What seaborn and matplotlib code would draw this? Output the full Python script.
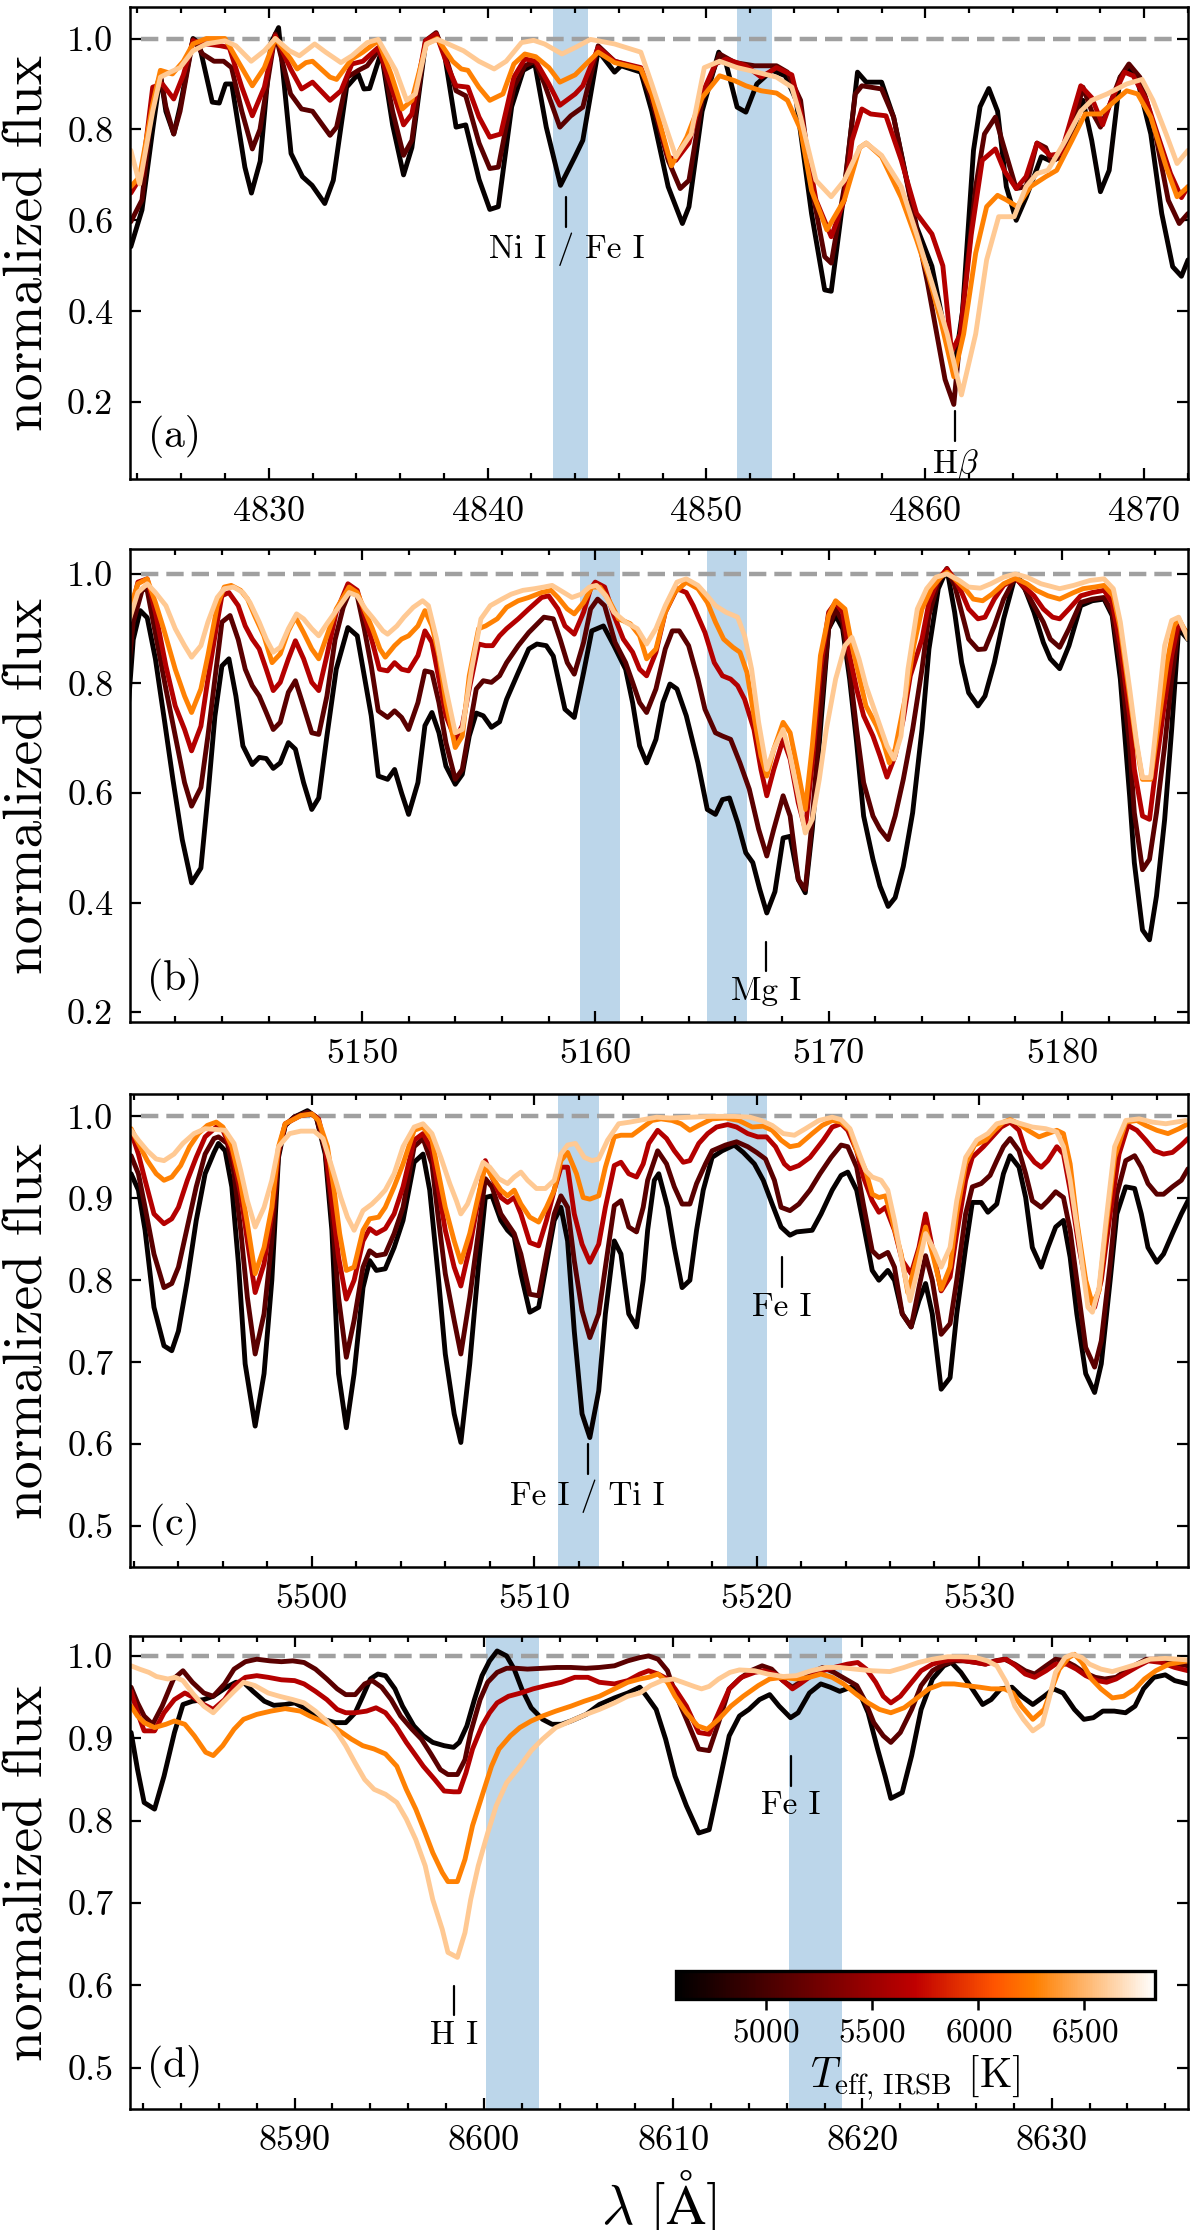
import matplotlib
matplotlib.use("Agg")
import matplotlib.pyplot as plt
import seaborn as sns
import pandas as pd
from matplotlib import colors, cm
from matplotlib.ticker import MultipleLocator, FormatStrFormatter

# effective temperatures of the five stars and the colour-bar range
TEFF = [4620, 5110, 5640, 6270, 6590]
TEFF_RANGE = (4576, 6833)
CBAR_TICKS = [5000, 5500, 6000, 6500]

# ---------------- panel (a): 4824-4872 A ----------------
A_4620 = [(4823.70,0.542),(4824.21,0.623),(4824.70,0.80),(4825.05,0.92),(4825.30,0.84),(4825.66,0.79),(4825.95,0.85),
          (4826.54,1.00),(4826.81,0.99),(4827.42,0.86),(4827.74,0.858),(4828.03,0.90),(4828.31,0.90),(4828.91,0.717),
          (4829.21,0.66),(4829.61,0.73),(4830.10,0.99),(4830.45,1.024),(4831.02,0.747),(4831.54,0.696),(4831.98,0.677),
          (4832.56,0.637),(4832.95,0.688),(4833.56,0.893),(4834.09,0.922),(4834.35,0.889),(4834.61,0.89),(4835.14,0.97),
          (4835.66,0.81),(4836.16,0.70),(4836.54,0.76),(4837.16,0.988),(4837.65,1.01),(4838.03,0.966),(4838.56,0.805),
          (4839.00,0.81),(4839.61,0.69),(4840.10,0.624),(4840.49,0.63),(4841.10,0.85),(4841.63,0.93),(4842.16,0.944),
          (4842.68,0.805),(4843.33,0.677),(4843.99,0.74),(4844.35,0.776),(4845.05,0.973),(4845.8,0.926),(4846.1,0.94),
          (4847.0,0.926),(4847.5,0.84),(4848.25,0.674),(4848.9,0.593),(4849.2,0.63),(4849.8,0.84),(4850.56,0.97),
          (4850.9,0.944),(4851.4,0.849),(4851.8,0.838),(4852.3,0.90),(4853.0,0.93),(4853.6,0.918),(4854.1,0.864),
          (4854.8,0.615),(4855.4,0.447),(4855.7,0.444),(4856.3,0.666),(4856.9,0.926),(4857.3,0.904),(4858.0,0.904),
          (4858.55,0.827),(4859.6,0.586),(4860.3,0.499),(4860.9,0.353),(4861.3,0.267),(4861.7,0.40),(4862.2,0.754),
          (4862.5,0.85),(4862.9,0.89),(4863.3,0.84),(4863.7,0.674),(4864.15,0.60),(4864.6,0.65),(4865.3,0.74),
          (4865.75,0.73),(4866.2,0.74),(4866.7,0.79),(4867.2,0.864),(4867.6,0.776),(4868.0,0.663),(4868.4,0.71),
          (4868.9,0.915),(4869.3,0.936),(4869.7,0.907),(4870.3,0.79),(4870.8,0.615),(4871.3,0.498),(4871.7,0.477),
          (4872.0,0.513)]
A_5110 = [(4823.70,0.597),(4824.21,0.645),(4824.70,0.87),(4825.05,0.92),(4825.30,0.85),(4825.66,0.79),(4825.95,0.84),
          (4826.54,0.998),(4826.98,0.966),(4827.5,0.95),(4827.94,0.95),(4828.3,0.936),(4828.77,0.84),(4829.25,0.757),
          (4829.6,0.80),(4830.3,1.01),(4831.0,0.878),(4831.5,0.845),(4832.0,0.84),(4832.8,0.787),(4833.1,0.805),
          (4833.6,0.915),(4834.1,0.93),(4834.5,0.94),(4835.1,0.98),(4835.66,0.84),(4836.16,0.743),(4836.54,0.776),
          (4837.16,0.995),(4837.65,1.013),(4838.1,0.958),(4838.56,0.885),(4839.0,0.874),(4839.61,0.77),(4840.1,0.714),
          (4840.49,0.717),(4841.2,0.893),(4841.7,0.94),(4842.16,0.95),(4842.6,0.90),(4843.3,0.805),(4843.8,0.83),
          (4844.35,0.849),(4845.05,0.984),(4845.8,0.95),(4847.0,0.933),(4847.5,0.864),(4848.25,0.732),(4848.8,0.67),
          (4849.2,0.688),(4849.8,0.864),(4850.6,0.966),(4851.3,0.947),(4852.2,0.94),(4853.2,0.94),(4853.7,0.926),
          (4854.3,0.864),(4854.8,0.674),(4855.4,0.52),(4855.7,0.506),(4856.3,0.674),(4856.8,0.878),(4857.1,0.896),
          (4858.0,0.889),(4858.55,0.827),(4859.2,0.674),(4860.1,0.462),(4860.9,0.25),(4861.3,0.195),(4861.75,0.425),
          (4862.3,0.674),(4862.7,0.79),(4863.2,0.827),(4863.5,0.776),(4864.15,0.67),(4864.6,0.674),(4865.1,0.77),
          (4865.5,0.76),(4865.75,0.73),(4866.2,0.74),(4866.7,0.797),(4867.2,0.893),(4867.6,0.84),(4868.0,0.805),
          (4868.5,0.864),(4868.9,0.915),(4869.3,0.944),(4869.8,0.915),(4870.45,0.805),(4871.1,0.644),(4871.6,0.593),
          (4872.0,0.615)]
A_5640 = [(4823.70,0.66),(4824.21,0.70),(4824.70,0.893),(4825.14,0.90),(4825.66,0.867),(4826.1,0.92),(4826.54,0.995),
          (4827.15,0.988),(4827.8,0.984),(4828.2,0.98),(4828.77,0.893),(4829.25,0.83),(4829.8,0.893),(4830.3,1.006),
          (4831.0,0.933),(4831.5,0.889),(4832.0,0.904),(4832.8,0.864),(4833.3,0.885),(4833.8,0.944),(4834.3,0.95),
          (4835.0,0.98),(4835.66,0.885),(4836.16,0.81),(4836.54,0.834),(4837.16,0.995),(4837.65,1.01),(4838.2,0.936),
          (4838.56,0.896),(4839.1,0.893),(4839.61,0.827),(4840.1,0.783),(4840.6,0.79),(4841.2,0.915),(4841.7,0.955),
          (4842.2,0.95),(4842.8,0.90),(4843.3,0.853),(4844.0,0.878),(4844.35,0.896),(4845.05,0.98),(4845.8,0.95),
          (4847.0,0.936),(4847.5,0.878),(4848.25,0.74),(4848.6,0.732),(4849.2,0.77),(4849.8,0.878),(4850.4,0.944),
          (4850.9,0.955),(4851.8,0.94),(4852.5,0.915),(4853.2,0.936),(4853.9,0.92),(4854.3,0.84),(4855.0,0.645),
          (4855.7,0.564),(4856.3,0.645),(4856.65,0.776),(4857.1,0.845),(4857.5,0.834),(4858.2,0.83),(4858.9,0.732),
          (4859.6,0.615),(4860.3,0.57),(4860.8,0.50),(4861.2,0.31),(4861.6,0.35),(4862.1,0.57),(4862.6,0.732),
          (4863.2,0.757),(4863.6,0.71),(4864.15,0.67),(4864.6,0.696),(4865.1,0.77),(4865.7,0.743),(4866.2,0.747),
          (4867.1,0.896),(4867.6,0.87),(4868.1,0.81),(4868.5,0.864),(4869.1,0.926),(4869.5,0.918),(4870.1,0.864),
          (4870.6,0.79),(4871.2,0.703),(4871.7,0.65),(4872.0,0.674)]
A_6270 = [(4823.70,0.674),(4824.1,0.696),(4824.70,0.856),(4825.05,0.93),(4825.6,0.922),(4826.1,0.95),(4826.54,0.988),
          (4827.15,1.0),(4828.0,1.0),(4828.5,0.958),(4829.25,0.896),(4829.8,0.936),(4830.3,1.0),(4831.0,0.955),
          (4831.3,0.933),(4831.7,0.947),(4832.0,0.95),(4832.8,0.915),(4833.1,0.91),(4833.8,0.955),(4834.3,0.97),
          (4835.0,0.995),(4835.6,0.92),(4836.1,0.845),(4836.54,0.864),(4837.2,0.988),(4837.7,1.0),(4838.4,0.95),
          (4838.8,0.933),(4839.1,0.93),(4839.6,0.893),(4840.1,0.864),(4840.7,0.878),(4841.2,0.944),(4841.7,0.966),
          (4842.2,0.96),(4842.8,0.936),(4843.3,0.904),(4844.0,0.92),(4844.5,0.944),(4845.05,0.97),(4845.8,0.947),
          (4847.0,0.933),(4847.5,0.878),(4848.4,0.72),(4849.1,0.783),(4849.8,0.87),(4850.6,0.918),(4851.3,0.907),
          (4851.8,0.896),(4852.5,0.885),(4853.2,0.88),(4853.7,0.864),(4854.3,0.80),(4854.8,0.666),(4855.5,0.579),
          (4856.3,0.645),(4857.0,0.76),(4857.3,0.77),(4858.0,0.74),(4858.9,0.65),(4859.6,0.557),(4860.15,0.477),
          (4860.7,0.38),(4861.3,0.256),(4861.75,0.35),(4862.3,0.528),(4862.8,0.63),(4863.3,0.655),(4863.7,0.645),
          (4864.2,0.63),(4864.8,0.674),(4865.5,0.696),(4866.0,0.71),(4866.7,0.776),(4867.3,0.834),(4868.0,0.834),
          (4868.5,0.856),(4869.2,0.885),(4869.7,0.878),(4870.3,0.827),(4871.0,0.718),(4871.5,0.652),(4872.0,0.674)]
A_6590 = [(4823.70,0.754),(4824.1,0.68),(4824.70,0.84),(4825.05,0.915),(4825.5,0.926),(4825.95,0.936),(4826.54,0.973),
          (4827.15,0.988),(4828.0,0.995),(4828.5,0.984),(4829.2,0.95),(4829.8,0.973),(4830.3,1.0),(4830.95,0.973),
          (4831.4,0.962),(4832.1,0.988),(4832.6,0.97),(4833.3,0.947),(4833.8,0.962),(4834.5,0.991),(4835.0,0.998),
          (4835.8,0.93),(4836.3,0.864),(4836.7,0.878),(4837.2,0.988),(4837.7,0.998),(4838.2,0.988),(4838.9,0.973),
          (4839.6,0.95),(4840.3,0.933),(4840.85,0.95),(4841.55,0.991),(4842.1,0.996),(4842.6,0.988),(4843.4,0.966),
          (4844.0,0.98),(4844.7,0.998),(4845.05,0.995),(4845.8,0.988),(4847.0,0.97),(4847.5,0.90),(4848.25,0.79),
          (4848.6,0.74),(4849.3,0.79),(4849.9,0.936),(4850.6,0.95),(4851.4,0.936),(4852.3,0.926),(4853.2,0.915),
          (4853.9,0.893),(4854.3,0.827),(4855.0,0.688),(4855.7,0.652),(4856.3,0.688),(4857.0,0.76),(4857.3,0.77),
          (4858.0,0.743),(4858.9,0.674),(4859.6,0.57),(4860.3,0.462),(4861.0,0.35),(4861.65,0.216),(4862.3,0.35),
          (4862.8,0.513),(4863.35,0.608),(4864.06,0.608),(4864.6,0.674),(4865.1,0.703),(4865.6,0.71),(4866.4,0.776),
          (4867.1,0.84),(4867.6,0.864),(4868.3,0.878),(4869.2,0.90),(4869.9,0.91),(4870.4,0.864),(4871.0,0.79),
          (4871.5,0.725),(4872.0,0.754)]

# ---------------- panel (b): 5140-5185 A ----------------
B_4620 = [(5140.0,0.765),(5140.2,0.88),(5140.5,0.933),(5140.8,0.92),(5141.15,0.845),(5141.55,0.729),(5141.9,0.625),
          (5142.3,0.515),(5142.7,0.436),(5143.1,0.463),(5143.4,0.595),(5143.7,0.74),(5144.0,0.832),(5144.3,0.845),
          (5144.6,0.777),(5144.9,0.686),(5145.3,0.652),(5145.6,0.665),(5145.9,0.663),(5146.2,0.645),(5146.5,0.655),
          (5146.85,0.692),(5147.15,0.68),(5147.5,0.619),(5147.85,0.57),(5148.15,0.591),(5148.5,0.704),(5148.9,0.826),
          (5149.4,0.902),(5149.8,0.887),(5150.15,0.802),(5150.4,0.741),(5150.7,0.631),(5151.1,0.625),(5151.4,0.643),
          (5151.7,0.60),(5152.0,0.561),(5152.4,0.619),(5152.7,0.723),(5153.0,0.747),(5153.3,0.71),(5153.6,0.649),
          (5154.0,0.616),(5154.3,0.634),(5154.6,0.704),(5154.9,0.746),(5155.2,0.741),(5155.55,0.72),(5155.9,0.73),
          (5156.2,0.771),(5156.7,0.82),(5157.15,0.863),(5157.5,0.872),(5157.9,0.869),(5158.2,0.85),(5158.7,0.753),
          (5159.1,0.738),(5159.5,0.82),(5159.85,0.896),(5160.35,0.905),(5160.8,0.869),(5161.3,0.826),(5161.6,0.765),
          (5161.9,0.686),(5162.2,0.655),(5162.6,0.698),(5162.9,0.765),(5163.2,0.799),(5163.5,0.79),(5163.9,0.741),
          (5164.4,0.655),(5164.8,0.57),(5165.15,0.561),(5165.45,0.588),(5165.75,0.591),(5166.1,0.546),(5166.45,0.491),
          (5166.75,0.473),(5167.05,0.424),(5167.35,0.381),(5167.7,0.42),(5168.05,0.518),(5168.35,0.521),(5168.7,0.442),
          (5169.0,0.418),(5169.3,0.534),(5169.65,0.716),(5170.0,0.90),(5170.3,0.924),(5170.6,0.90),(5170.9,0.808),
          (5171.2,0.692),(5171.5,0.558),(5171.9,0.479),(5172.2,0.43),(5172.55,0.393),(5172.85,0.409),(5173.2,0.466),
          (5173.6,0.564),(5174.0,0.716),(5174.3,0.863),(5174.7,0.973),(5175.07,1.009),(5175.4,0.93),(5175.7,0.838),
          (5176.0,0.783),(5176.4,0.759),(5176.7,0.777),(5177.1,0.838),(5177.5,0.918),(5178.0,0.997),(5178.3,0.985),
          (5178.8,0.93),(5179.2,0.875),(5179.5,0.845),(5179.9,0.827),(5180.3,0.869),(5180.8,0.942),(5181.3,0.951),
          (5181.8,0.954),(5182.15,0.924),(5182.5,0.808),(5182.9,0.594),(5183.1,0.473),(5183.45,0.35),(5183.75,0.332),
          (5184.05,0.412),(5184.4,0.552),(5184.7,0.716),(5185.0,0.90),(5185.4,0.88)]
B_5110 = [(5140.0,0.826),(5140.2,0.912),(5140.6,0.973),(5140.8,0.97),(5141.2,0.88),(5141.6,0.79),(5142.0,0.704),
          (5142.4,0.619),(5142.7,0.576),(5143.1,0.61),(5143.4,0.704),(5143.7,0.808),(5144.0,0.912),(5144.35,0.924),
          (5144.7,0.88),(5145.0,0.826),(5145.3,0.796),(5145.6,0.777),(5145.9,0.747),(5146.2,0.716),(5146.5,0.729),
          (5146.85,0.784),(5147.15,0.805),(5147.45,0.765),(5147.85,0.71),(5148.15,0.707),(5148.5,0.777),(5148.85,0.88),
          (5149.2,0.939),(5149.5,0.97),(5149.8,0.96),(5150.1,0.90),(5150.4,0.832),(5150.7,0.75),(5151.1,0.738),
          (5151.4,0.75),(5151.7,0.738),(5152.0,0.716),(5152.4,0.765),(5152.7,0.823),(5153.0,0.82),(5153.3,0.765),
          (5153.6,0.692),(5154.0,0.625),(5154.3,0.643),(5154.6,0.716),(5154.9,0.79),(5155.2,0.805),(5155.55,0.802),
          (5155.9,0.814),(5156.2,0.838),(5156.7,0.869),(5157.15,0.893),(5157.8,0.921),(5158.2,0.918),(5158.5,0.88),
          (5158.8,0.838),(5159.1,0.817),(5159.5,0.875),(5159.8,0.936),(5160.1,0.954),(5160.4,0.942),(5160.85,0.875),
          (5161.3,0.838),(5161.6,0.802),(5161.9,0.765),(5162.2,0.747),(5162.6,0.79),(5163.0,0.863),(5163.3,0.896),
          (5163.6,0.896),(5164.0,0.869),(5164.4,0.808),(5164.7,0.753),(5165.15,0.71),(5165.45,0.704),(5165.8,0.698),
          (5166.2,0.655),(5166.6,0.607),(5167.0,0.534),(5167.35,0.485),(5167.65,0.534),(5168.05,0.595),(5168.35,0.558),
          (5168.7,0.442),(5169.0,0.424),(5169.3,0.552),(5169.65,0.747),(5170.0,0.90),(5170.3,0.936),(5170.6,0.912),
          (5170.9,0.826),(5171.2,0.716),(5171.5,0.619),(5171.9,0.558),(5172.2,0.534),(5172.55,0.515),(5172.85,0.558),
          (5173.2,0.625),(5173.6,0.716),(5174.0,0.826),(5174.3,0.924),(5174.7,0.985),(5175.07,1.01),(5175.4,0.979),
          (5175.7,0.93),(5176.0,0.881),(5176.4,0.862),(5176.7,0.863),(5177.1,0.905),(5177.5,0.954),(5178.0,0.994),
          (5178.4,0.973),(5178.8,0.942),(5179.2,0.912),(5179.5,0.881),(5179.9,0.866),(5180.3,0.90),(5180.8,0.948),
          (5181.3,0.954),(5181.8,0.957),(5182.15,0.93),(5182.5,0.838),(5182.9,0.686),(5183.1,0.564),(5183.45,0.46),
          (5183.75,0.479),(5184.05,0.564),(5184.4,0.686),(5184.7,0.808),(5185.0,0.905),(5185.4,0.893)]
B_5640 = [(5140.0,0.912),(5140.4,0.985),(5140.8,0.991),(5141.15,0.93),(5141.6,0.832),(5142.0,0.759),(5142.4,0.716),
          (5142.7,0.677),(5143.1,0.722),(5143.4,0.808),(5143.8,0.912),(5144.0,0.96),(5144.3,0.966),(5144.7,0.942),
          (5145.0,0.905),(5145.3,0.881),(5145.6,0.863),(5145.9,0.826),(5146.2,0.787),(5146.5,0.802),(5146.85,0.845),
          (5147.15,0.878),(5147.5,0.845),(5147.85,0.802),(5148.15,0.787),(5148.5,0.851),(5148.9,0.93),(5149.4,0.982),
          (5149.8,0.97),(5150.15,0.918),(5150.45,0.875),(5150.75,0.826),(5151.1,0.823),(5151.4,0.838),(5151.7,0.826),
          (5152.0,0.823),(5152.4,0.851),(5152.7,0.896),(5153.0,0.875),(5153.3,0.808),(5153.6,0.741),(5154.0,0.698),
          (5154.3,0.723),(5154.6,0.79),(5155.0,0.872),(5155.3,0.869),(5155.6,0.869),(5155.9,0.887),(5156.2,0.90),
          (5156.7,0.918),(5157.15,0.936),(5157.7,0.957),(5158.0,0.96),(5158.4,0.936),(5158.7,0.905),(5159.1,0.89),
          (5159.5,0.93),(5159.8,0.973),(5160.0,0.985),(5160.4,0.976),(5160.8,0.924),(5161.2,0.881),(5161.6,0.857),
          (5161.9,0.826),(5162.2,0.814),(5162.6,0.857),(5163.0,0.93),(5163.5,0.973),(5163.9,0.966),(5164.2,0.942),
          (5164.7,0.893),(5165.1,0.838),(5165.45,0.814),(5165.8,0.808),(5166.1,0.796),(5166.4,0.771),(5166.8,0.716),
          (5167.1,0.643),(5167.35,0.595),(5167.65,0.643),(5168.05,0.698),(5168.35,0.662),(5168.7,0.582),(5169.0,0.534),
          (5169.3,0.655),(5169.65,0.826),(5170.0,0.93),(5170.3,0.948),(5170.6,0.93),(5170.9,0.851),(5171.2,0.79),
          (5171.5,0.741),(5171.9,0.704),(5172.2,0.668),(5172.5,0.629),(5172.85,0.668),(5173.2,0.735),(5173.5,0.814),
          (5174.0,0.881),(5174.3,0.948),(5174.7,0.991),(5175.07,1.009),(5175.4,0.991),(5175.7,0.966),(5176.0,0.936),
          (5176.4,0.918),(5176.7,0.921),(5177.1,0.954),(5177.5,0.979),(5178.0,0.992),(5178.4,0.976),(5178.8,0.96),
          (5179.2,0.936),(5179.6,0.921),(5179.9,0.918),(5180.3,0.936),(5180.8,0.96),(5181.3,0.966),(5181.8,0.97),
          (5182.15,0.948),(5182.5,0.869),(5182.9,0.741),(5183.1,0.643),(5183.45,0.558),(5183.75,0.552),(5184.05,0.655),
          (5184.4,0.765),(5184.7,0.851),(5185.0,0.912),(5185.4,0.887)]
B_6270 = [(5140.0,0.93),(5140.4,0.982),(5140.8,0.991),(5141.15,0.948),(5141.5,0.90),(5142.0,0.826),(5142.4,0.777),
          (5142.7,0.747),(5143.1,0.79),(5143.4,0.851),(5143.8,0.942),(5144.1,0.976),(5144.4,0.979),(5144.8,0.97),
          (5145.1,0.954),(5145.4,0.924),(5145.8,0.887),(5146.15,0.838),(5146.5,0.854),(5146.85,0.896),(5147.15,0.921),
          (5147.5,0.893),(5147.85,0.863),(5148.15,0.845),(5148.5,0.887),(5148.9,0.936),(5149.45,0.976),(5149.8,0.966),
          (5150.15,0.93),(5150.45,0.90),(5150.77,0.863),(5151.0,0.848),(5151.4,0.869),(5151.7,0.881),(5152.0,0.887),
          (5152.4,0.905),(5152.7,0.933),(5153.0,0.905),(5153.3,0.851),(5153.6,0.765),(5154.0,0.683),(5154.3,0.704),
          (5154.6,0.814),(5155.0,0.90),(5155.3,0.905),(5155.8,0.918),(5156.2,0.939),(5156.7,0.951),(5157.15,0.957),
          (5157.7,0.966),(5158.1,0.97),(5158.4,0.957),(5158.8,0.936),(5159.1,0.927),(5159.5,0.948),(5159.85,0.976),
          (5160.2,0.976),(5160.6,0.951),(5161.0,0.918),(5161.5,0.909),(5161.9,0.887),(5162.2,0.845),(5162.6,0.863),
          (5163.0,0.93),(5163.4,0.966),(5163.9,0.985),(5164.4,0.973),(5164.8,0.948),(5165.15,0.912),(5165.5,0.881),
          (5165.9,0.866),(5166.2,0.857),(5166.5,0.82),(5166.8,0.741),(5167.1,0.668),(5167.35,0.631),(5167.65,0.68),
          (5168.05,0.729),(5168.35,0.71),(5168.7,0.637),(5169.0,0.57),(5169.3,0.686),(5169.65,0.851),(5170.0,0.924),
          (5170.3,0.951),(5170.7,0.936),(5171.0,0.869),(5171.3,0.814),(5171.6,0.759),(5172.05,0.723),(5172.35,0.692),
          (5172.6,0.655),(5172.85,0.68),(5173.3,0.777),(5173.65,0.869),(5174.0,0.936),(5174.4,0.973),(5174.8,0.994),
          (5175.07,1.003),(5175.4,0.991),(5175.9,0.97),(5176.2,0.954),(5176.6,0.951),(5177.0,0.963),(5177.5,0.982),
          (5178.0,0.992),(5178.5,0.982),(5178.9,0.97),(5179.4,0.96),(5179.9,0.954),(5180.5,0.966),(5180.9,0.973),
          (5181.4,0.976),(5181.8,0.979),(5182.2,0.96),(5182.5,0.90),(5182.9,0.777),(5183.2,0.686),(5183.45,0.625),
          (5183.8,0.625),(5184.1,0.716),(5184.5,0.838),(5184.8,0.905),(5185.0,0.918),(5185.4,0.887)]
B_6590 = [(5140.0,0.912),(5140.4,0.966),(5140.8,0.982),(5141.15,0.966),(5141.6,0.942),(5142.0,0.90),(5142.4,0.869),
          (5142.7,0.848),(5143.1,0.869),(5143.4,0.912),(5143.8,0.957),(5144.1,0.973),(5144.5,0.976),(5144.9,0.966),
          (5145.2,0.948),(5145.6,0.912),(5145.9,0.881),(5146.2,0.857),(5146.5,0.866),(5146.85,0.90),(5147.2,0.927),
          (5147.5,0.918),(5147.85,0.90),(5148.15,0.887),(5148.5,0.909),(5148.9,0.933),(5149.45,0.966),(5149.8,0.96),
          (5150.15,0.936),(5150.5,0.918),(5150.9,0.896),(5151.1,0.89),(5151.5,0.905),(5151.8,0.921),(5152.2,0.939),
          (5152.6,0.951),(5152.85,0.942),(5153.2,0.881),(5153.6,0.79),(5154.0,0.71),(5154.3,0.716),(5154.7,0.826),
          (5155.1,0.918),(5155.5,0.942),(5156.0,0.954),(5156.4,0.963),(5156.9,0.97),(5157.4,0.973),(5157.8,0.976),
          (5158.15,0.979),(5158.5,0.97),(5159.0,0.957),(5159.4,0.963),(5159.75,0.976),(5160.05,0.979),(5160.45,0.96),
          (5160.8,0.93),(5161.3,0.912),(5161.8,0.90),(5162.2,0.872),(5162.6,0.90),(5163.0,0.942),(5163.5,0.985),
          (5163.9,0.991),(5164.4,0.979),(5164.8,0.96),(5165.15,0.942),(5165.6,0.93),(5166.1,0.921),(5166.4,0.887),
          (5166.7,0.826),(5167.0,0.729),(5167.35,0.643),(5167.65,0.68),(5168.05,0.716),(5168.35,0.668),(5168.7,0.595),
          (5169.0,0.527),(5169.3,0.552),(5169.6,0.625),(5169.9,0.716),(5170.3,0.808),(5170.7,0.869),(5171.0,0.884),
          (5171.3,0.845),(5171.6,0.796),(5172.05,0.741),(5172.5,0.686),(5172.8,0.662),(5173.1,0.704),(5173.4,0.826),
          (5173.8,0.936),(5174.2,0.973),(5174.6,0.994),(5175.07,1.0),(5175.6,0.988),(5176.0,0.976),(5176.5,0.974),
          (5176.95,0.982),(5177.5,0.994),(5178.0,1.0),(5178.5,0.994),(5179.1,0.982),(5179.9,0.973),(5180.5,0.979),
          (5181.2,0.988),(5181.8,0.991),(5182.2,0.973),(5182.5,0.912),(5182.9,0.79),(5183.2,0.692),(5183.45,0.628),
          (5183.8,0.628),(5184.1,0.747),(5184.4,0.869),(5184.7,0.915),(5185.0,0.921),(5185.4,0.881)]

# ---------------- panel (c): 5492-5539 A ----------------
C_4620 = [(5491.87,0.93),(5492.2,0.91),(5492.5,0.861),(5492.9,0.767),(5493.35,0.72),(5493.7,0.714),(5494.0,0.738),
          (5494.4,0.80),(5494.8,0.873),(5495.2,0.93),(5495.6,0.956),(5495.8,0.967),(5496.1,0.958),(5496.4,0.914),
          (5496.7,0.82),(5497.0,0.698),(5497.45,0.622),(5497.85,0.686),(5498.2,0.80),(5498.5,0.95),(5498.8,0.989),
          (5499.2,0.999),(5499.8,1.007),(5500.2,0.999),(5500.6,0.954),(5500.9,0.861),(5501.2,0.686),(5501.55,0.62),
          (5501.9,0.686),(5502.3,0.791),(5502.6,0.824),(5502.9,0.812),(5503.3,0.814),(5503.7,0.84),(5504.1,0.873),
          (5504.6,0.944),(5505.0,0.954),(5505.3,0.91),(5505.7,0.80),(5506.0,0.71),(5506.4,0.637),(5506.7,0.602),
          (5507.1,0.698),(5507.5,0.82),(5507.8,0.901),(5508.1,0.903),(5508.5,0.873),(5508.8,0.861),(5509.1,0.853),
          (5509.4,0.808),(5509.8,0.761),(5510.2,0.767),(5510.55,0.82),(5510.9,0.873),(5511.2,0.889),(5511.5,0.848),
          (5511.8,0.738),(5512.15,0.637),(5512.5,0.608),(5512.9,0.665),(5513.2,0.759),(5513.6,0.848),(5513.9,0.832),
          (5514.25,0.759),(5514.6,0.743),(5514.9,0.80),(5515.1,0.861),(5515.4,0.922),(5515.6,0.93),(5516.0,0.889),
          (5516.3,0.84),(5516.65,0.791),(5517.0,0.80),(5517.3,0.861),(5517.6,0.91),(5518.0,0.95),(5518.45,0.958),
          (5519.0,0.965),(5519.4,0.956),(5519.9,0.942),(5520.3,0.922),(5520.7,0.893),(5521.1,0.865),(5521.5,0.855),
          (5521.8,0.859),(5522.5,0.861),(5522.9,0.881),(5523.4,0.91),(5523.8,0.928),(5524.1,0.932),(5524.5,0.91),
          (5524.8,0.869),(5525.2,0.812),(5525.5,0.80),(5525.9,0.812),(5526.2,0.80),(5526.55,0.759),(5526.95,0.743),
          (5527.3,0.775),(5527.6,0.796),(5527.9,0.759),(5528.3,0.667),(5528.7,0.681),(5529.0,0.759),(5529.4,0.84),
          (5529.7,0.895),(5530.1,0.895),(5530.4,0.883),(5530.8,0.893),(5531.1,0.93),(5531.4,0.952),(5531.8,0.938),
          (5532.1,0.901),(5532.4,0.84),(5532.8,0.816),(5533.1,0.84),(5533.45,0.865),(5533.8,0.873),(5534.1,0.828),
          (5534.4,0.759),(5534.8,0.686),(5535.2,0.663),(5535.5,0.698),(5535.9,0.80),(5536.2,0.881),(5536.6,0.914),
          (5537.0,0.912),(5537.3,0.881),(5537.6,0.84),(5538.0,0.822),(5538.3,0.832),(5538.7,0.857),(5539.1,0.881),
          (5539.4,0.897)]
C_5110 = [(5491.87,0.952),(5492.2,0.93),(5492.5,0.889),(5492.9,0.832),(5493.35,0.791),(5493.7,0.796),(5494.0,0.816),
          (5494.4,0.865),(5494.8,0.914),(5495.2,0.954),(5495.6,0.973),(5495.8,0.975),(5496.2,0.967),(5496.5,0.93),
          (5496.8,0.861),(5497.1,0.779),(5497.45,0.71),(5497.85,0.759),(5498.2,0.848),(5498.5,0.954),(5498.8,0.989),
          (5499.2,0.999),(5499.8,1.005),(5500.2,0.999),(5500.6,0.958),(5500.9,0.881),(5501.2,0.779),(5501.55,0.706),
          (5501.9,0.751),(5502.3,0.816),(5502.6,0.836),(5502.9,0.83),(5503.3,0.832),(5503.7,0.857),(5504.1,0.889),
          (5504.6,0.963),(5505.0,0.973),(5505.4,0.942),(5505.7,0.873),(5506.0,0.808),(5506.4,0.751),(5506.7,0.71),
          (5507.1,0.779),(5507.5,0.861),(5507.8,0.924),(5508.1,0.914),(5508.5,0.881),(5508.8,0.869),(5509.1,0.857),
          (5509.4,0.832),(5509.8,0.783),(5510.2,0.781),(5510.55,0.832),(5510.9,0.881),(5511.2,0.903),(5511.5,0.889),
          (5511.8,0.824),(5512.15,0.763),(5512.5,0.73),(5512.9,0.759),(5513.2,0.816),(5513.6,0.891),(5513.9,0.897),
          (5514.25,0.865),(5514.6,0.859),(5514.9,0.889),(5515.1,0.922),(5515.55,0.958),(5515.95,0.942),(5516.3,0.914),
          (5516.65,0.893),(5517.0,0.893),(5517.3,0.918),(5517.7,0.942),(5518.0,0.958),(5518.6,0.965),(5519.1,0.969),
          (5519.6,0.963),(5520.0,0.956),(5520.4,0.948),(5520.8,0.922),(5521.1,0.889),(5521.5,0.885),(5521.9,0.893),
          (5522.4,0.91),(5522.85,0.93),(5523.35,0.95),(5523.8,0.965),(5524.1,0.963),(5524.5,0.938),(5524.8,0.893),
          (5525.2,0.836),(5525.5,0.828),(5525.9,0.834),(5526.2,0.816),(5526.55,0.759),(5526.95,0.743),(5527.3,0.791),
          (5527.6,0.83),(5527.9,0.80),(5528.3,0.734),(5528.7,0.747),(5529.0,0.80),(5529.4,0.881),(5529.7,0.914),
          (5530.1,0.918),(5530.5,0.928),(5530.8,0.946),(5531.1,0.963),(5531.4,0.973),(5531.8,0.958),(5532.1,0.93),
          (5532.4,0.897),(5532.8,0.889),(5533.1,0.897),(5533.45,0.908),(5533.8,0.901),(5534.1,0.861),(5534.4,0.80),
          (5534.8,0.718),(5535.2,0.694),(5535.5,0.726),(5535.9,0.82),(5536.2,0.905),(5536.6,0.946),(5537.0,0.952),
          (5537.3,0.938),(5537.6,0.918),(5538.0,0.905),(5538.3,0.905),(5538.7,0.914),(5539.1,0.922),(5539.4,0.936)]
C_5640 = [(5491.87,0.981),(5492.2,0.954),(5492.5,0.922),(5492.9,0.881),(5493.35,0.869),(5493.7,0.875),(5494.0,0.889),
          (5494.4,0.922),(5494.8,0.95),(5495.2,0.975),(5495.7,0.987),(5496.0,0.983),(5496.4,0.958),(5496.8,0.905),
          (5497.1,0.848),(5497.45,0.785),(5497.85,0.82),(5498.2,0.881),(5498.5,0.958),(5498.8,0.991),(5499.5,1.001),
          (5500.0,1.003),(5500.3,0.997),(5500.6,0.963),(5500.9,0.897),(5501.2,0.828),(5501.55,0.777),(5501.9,0.80),
          (5502.3,0.848),(5502.6,0.863),(5502.9,0.857),(5503.3,0.863),(5503.7,0.881),(5504.1,0.914),(5504.6,0.971),
          (5505.0,0.979),(5505.4,0.958),(5505.7,0.91),(5506.0,0.861),(5506.4,0.816),(5506.7,0.793),(5507.1,0.84),
          (5507.5,0.901),(5507.8,0.946),(5508.1,0.926),(5508.5,0.901),(5508.8,0.895),(5509.1,0.901),(5509.4,0.881),
          (5509.8,0.846),(5510.2,0.842),(5510.55,0.873),(5510.9,0.91),(5511.2,0.938),(5511.5,0.938),(5511.8,0.881),
          (5512.15,0.844),(5512.5,0.822),(5512.9,0.844),(5513.2,0.889),(5513.6,0.94),(5513.9,0.944),(5514.25,0.93),
          (5514.6,0.926),(5514.9,0.942),(5515.15,0.967),(5515.55,0.983),(5515.95,0.973),(5516.3,0.958),(5516.7,0.944),
          (5517.0,0.946),(5517.4,0.967),(5517.8,0.979),(5518.2,0.987),(5518.7,0.99),(5519.1,0.987),(5519.6,0.979),
          (5520.05,0.975),(5520.45,0.975),(5520.85,0.963),(5521.25,0.942),(5521.5,0.936),(5521.9,0.94),(5522.4,0.95),
          (5523.0,0.971),(5523.4,0.987),(5523.8,0.991),(5524.1,0.983),(5524.5,0.958),(5524.8,0.926),(5525.2,0.897),
          (5525.5,0.883),(5525.8,0.889),(5526.2,0.861),(5526.55,0.824),(5526.95,0.808),(5527.3,0.84),(5527.6,0.881),
          (5527.9,0.84),(5528.3,0.787),(5528.7,0.804),(5529.0,0.857),(5529.4,0.922),(5529.7,0.95),(5530.2,0.963),
          (5530.6,0.975),(5531.0,0.987),(5531.4,0.993),(5531.8,0.983),(5532.1,0.958),(5532.5,0.944),(5532.8,0.938),
          (5533.1,0.946),(5533.5,0.963),(5533.8,0.954),(5534.1,0.91),(5534.5,0.84),(5534.9,0.783),(5535.2,0.767),
          (5535.5,0.80),(5535.9,0.881),(5536.3,0.954),(5536.7,0.989),(5537.1,0.983),(5537.5,0.971),(5537.9,0.958),
          (5538.3,0.954),(5538.7,0.956),(5539.1,0.965),(5539.4,0.973)]
C_6270 = [(5491.87,0.985),(5492.2,0.967),(5492.6,0.946),(5493.0,0.93),(5493.35,0.922),(5493.7,0.926),(5494.1,0.94),
          (5494.5,0.963),(5494.9,0.979),(5495.3,0.989),(5495.7,0.993),(5496.0,0.987),(5496.4,0.963),(5496.8,0.918),
          (5497.1,0.869),(5497.45,0.808),(5497.85,0.84),(5498.2,0.889),(5498.5,0.963),(5498.8,0.991),(5499.5,1.001),
          (5500.0,1.003),(5500.3,0.995),(5500.7,0.963),(5501.0,0.91),(5501.25,0.857),(5501.55,0.812),(5501.9,0.816),
          (5502.3,0.861),(5502.6,0.875),(5503.0,0.877),(5503.3,0.889),(5503.7,0.914),(5504.1,0.942),(5504.6,0.983),
          (5505.0,0.987),(5505.4,0.971),(5505.7,0.93),(5506.0,0.889),(5506.4,0.848),(5506.7,0.822),(5507.1,0.857),
          (5507.5,0.905),(5507.8,0.94),(5508.1,0.926),(5508.5,0.91),(5508.8,0.903),(5509.1,0.91),(5509.4,0.893),
          (5509.8,0.877),(5510.2,0.871),(5510.55,0.889),(5510.9,0.91),(5511.2,0.946),(5511.5,0.956),(5511.9,0.93),
          (5512.2,0.901),(5512.5,0.899),(5512.9,0.903),(5513.2,0.938),(5513.6,0.975),(5513.9,0.977),(5514.4,0.977),
          (5514.9,0.987),(5515.3,0.995),(5515.7,0.997),(5516.2,0.995),(5516.6,0.991),(5517.0,0.983),(5517.4,0.989),
          (5518.0,0.997),(5518.6,0.998),(5519.2,0.995),(5519.8,0.987),(5520.3,0.988),(5520.7,0.983),(5521.1,0.971),
          (5521.5,0.963),(5521.9,0.965),(5522.5,0.979),(5522.95,0.989),(5523.4,0.995),(5523.8,0.993),(5524.2,0.983),
          (5524.5,0.958),(5524.9,0.934),(5525.2,0.905),(5525.5,0.901),(5525.8,0.903),(5526.1,0.873),(5526.5,0.832),
          (5526.8,0.785),(5527.1,0.816),(5527.6,0.865),(5527.95,0.828),(5528.3,0.789),(5528.7,0.816),(5529.0,0.881),
          (5529.4,0.942),(5529.8,0.965),(5530.3,0.971),(5530.7,0.983),(5531.1,0.993),(5531.4,0.996),(5531.8,0.991),
          (5532.2,0.983),(5532.7,0.975),(5533.1,0.979),(5533.5,0.983),(5533.8,0.979),(5534.1,0.942),(5534.4,0.873),
          (5534.8,0.80),(5535.1,0.771),(5535.4,0.787),(5535.7,0.861),(5536.1,0.95),(5536.6,0.993),(5537.1,0.995),
          (5537.5,0.989),(5538.0,0.983),(5538.5,0.979),(5539.0,0.985),(5539.4,0.991)]
C_6590 = [(5491.87,0.983),(5492.2,0.971),(5492.6,0.958),(5493.0,0.948),(5493.35,0.946),(5493.8,0.954),(5494.2,0.967),
          (5494.7,0.979),(5495.2,0.985),(5495.7,0.984),(5496.1,0.983),(5496.5,0.967),(5496.8,0.934),(5497.1,0.897),
          (5497.45,0.865),(5497.85,0.889),(5498.2,0.922),(5498.5,0.963),(5499.0,0.979),(5499.5,0.982),(5500.1,0.982),
          (5500.5,0.973),(5500.9,0.938),(5501.3,0.901),(5501.6,0.877),(5501.9,0.861),(5502.3,0.885),(5502.7,0.893),
          (5503.0,0.901),(5503.3,0.91),(5503.7,0.93),(5504.1,0.963),(5504.6,0.987),(5505.0,0.991),(5505.4,0.979),
          (5505.8,0.95),(5506.2,0.918),(5506.5,0.897),(5506.7,0.881),(5507.0,0.893),(5507.4,0.922),(5507.7,0.944),
          (5508.0,0.938),(5508.4,0.924),(5508.8,0.918),(5509.1,0.926),(5509.4,0.932),(5509.7,0.922),(5510.1,0.912),
          (5510.5,0.912),(5510.9,0.922),(5511.2,0.954),(5511.5,0.965),(5511.85,0.967),(5512.25,0.95),(5512.6,0.946),
          (5512.9,0.948),(5513.3,0.971),(5513.8,0.991),(5514.3,0.993),(5514.9,0.996),(5515.5,0.999),(5516.1,0.998),
          (5517.0,0.999),(5518.0,1.0),(5519.0,1.0),(5519.7,0.999),(5520.2,0.995),(5520.7,0.989),(5521.2,0.979),
          (5521.7,0.977),(5522.2,0.985),(5522.8,0.995),(5523.4,0.999),(5523.8,0.996),(5524.2,0.985),(5524.5,0.963),
          (5524.9,0.934),(5525.2,0.926),(5525.6,0.922),(5525.9,0.91),(5526.2,0.873),(5526.5,0.828),(5526.9,0.775),
          (5527.2,0.808),(5527.6,0.857),(5528.0,0.836),(5528.3,0.816),(5528.7,0.84),(5529.0,0.897),(5529.4,0.95),
          (5529.9,0.971),(5530.4,0.979),(5530.8,0.991),(5531.4,0.995),(5531.9,0.991),(5532.4,0.987),(5533.0,0.985),
          (5533.5,0.981),(5533.8,0.963),(5534.1,0.922),(5534.5,0.848),(5534.9,0.767),(5535.1,0.761),(5535.4,0.791),
          (5535.7,0.869),(5536.1,0.963),(5536.6,0.995),(5537.2,0.997),(5537.8,0.993),(5538.4,0.991),(5539.3,0.995)]

# ---------------- panel (d): 8581-8637 A ----------------
D_4620 = [(8581.36,0.907),(8581.7,0.862),(8582.05,0.822),(8582.6,0.814),(8583.1,0.854),(8583.65,0.907),(8584.1,0.941),
          (8584.6,0.945),(8585.2,0.947),(8585.7,0.951),(8586.4,0.962),(8586.9,0.968),(8587.3,0.968),(8587.8,0.957),
          (8588.4,0.945),(8588.9,0.94),(8589.5,0.941),(8590.0,0.943),(8590.5,0.937),(8591.0,0.929),(8591.5,0.923),
          (8592.15,0.919),(8592.7,0.919),(8593.2,0.931),(8593.6,0.951),(8594.0,0.972),(8594.4,0.978),(8594.8,0.976),
          (8595.3,0.96),(8595.7,0.939),(8596.3,0.915),(8596.8,0.903),(8597.3,0.895),(8597.9,0.891),(8598.4,0.889),
          (8598.7,0.895),(8599.1,0.915),(8599.5,0.947),(8599.9,0.976),(8600.3,0.994),(8600.7,1.006),(8601.2,1.0),
          (8601.6,0.984),(8602.0,0.96),(8602.5,0.937),(8603.1,0.923),(8603.6,0.917),(8604.1,0.917),(8604.6,0.921),
          (8605.4,0.929),(8606.1,0.941),(8606.9,0.949),(8607.6,0.955),(8608.24,0.962),(8608.6,0.951),(8609.1,0.935),
          (8609.6,0.899),(8610.1,0.854),(8610.7,0.818),(8611.35,0.785),(8611.9,0.789),(8612.4,0.842),(8612.96,0.903),
          (8613.5,0.927),(8614.0,0.935),(8614.56,0.947),(8615.1,0.953),(8615.6,0.939),(8616.2,0.925),(8616.6,0.931),
          (8617.2,0.955),(8617.8,0.966),(8618.3,0.962),(8618.8,0.957),(8619.4,0.962),(8619.85,0.955),(8620.3,0.931),
          (8620.8,0.887),(8621.2,0.854),(8621.5,0.827),(8622.1,0.834),(8622.6,0.879),(8623.1,0.935),(8623.7,0.972),
          (8624.3,0.988),(8624.7,0.992),(8625.2,0.98),(8625.8,0.96),(8626.35,0.941),(8626.8,0.947),(8627.3,0.96),
          (8627.9,0.962),(8628.4,0.951),(8629.0,0.941),(8629.6,0.951),(8630.1,0.96),(8630.6,0.955),(8631.2,0.935),
          (8631.7,0.923),(8632.2,0.925),(8632.7,0.933),(8633.3,0.933),(8633.9,0.931),(8634.4,0.939),(8634.85,0.96),
          (8635.4,0.974),(8636.0,0.977),(8636.5,0.97),(8637.2,0.966)]
D_5110 = [(8581.36,0.962),(8581.7,0.943),(8582.05,0.927),(8582.5,0.917),(8583.0,0.939),(8583.6,0.972),(8584.1,0.982),
          (8584.6,0.968),(8585.2,0.955),(8585.7,0.951),(8586.3,0.966),(8586.8,0.984),(8587.4,0.993),(8588.0,0.996),
          (8588.7,0.994),(8589.3,0.993),(8589.9,0.994),(8590.5,0.992),(8591.1,0.984),(8591.7,0.972),(8592.25,0.96),
          (8592.7,0.953),(8593.2,0.953),(8593.7,0.966),(8594.1,0.97),(8594.6,0.962),(8595.1,0.947),(8595.6,0.927),
          (8596.2,0.911),(8596.7,0.899),(8597.2,0.881),(8597.7,0.862),(8598.1,0.856),(8598.6,0.856),(8599.0,0.874),
          (8599.3,0.907),(8599.8,0.947),(8600.2,0.968),(8600.7,0.98),(8601.2,0.985),(8601.7,0.985),(8602.3,0.984),
          (8603.1,0.985),(8603.85,0.986),(8604.6,0.986),(8605.4,0.985),(8606.1,0.986),(8606.9,0.988),(8607.6,0.994),
          (8608.24,0.998),(8608.7,1.0),(8609.2,0.996),(8609.7,0.982),(8610.1,0.955),(8610.7,0.923),(8611.35,0.887),
          (8611.9,0.885),(8612.4,0.919),(8612.96,0.96),(8613.5,0.972),(8614.1,0.982),(8614.7,0.988),(8615.2,0.984),
          (8615.8,0.97),(8616.3,0.962),(8616.7,0.968),(8617.3,0.98),(8617.9,0.986),(8618.5,0.98),(8619.1,0.972),
          (8619.7,0.964),(8620.1,0.947),(8620.6,0.919),(8621.1,0.903),(8621.5,0.895),(8622.0,0.907),(8622.6,0.935),
          (8623.1,0.964),(8623.7,0.982),(8624.3,0.99),(8624.9,0.994),(8625.4,0.994),(8626.0,0.992),(8626.5,0.99),
          (8627.0,0.994),(8627.5,0.996),(8628.05,0.99),(8628.6,0.982),(8629.1,0.978),(8629.7,0.988),(8630.2,0.996),
          (8630.7,0.994),(8631.2,0.988),(8631.7,0.98),(8632.3,0.974),(8632.8,0.972),(8633.4,0.974),(8633.9,0.982),
          (8634.5,0.99),(8635.0,0.996),(8635.6,0.996),(8636.2,0.992),(8636.7,0.99),(8637.2,0.988)]
D_5640 = [(8581.36,0.957),(8581.7,0.931),(8582.05,0.909),(8582.6,0.909),(8583.1,0.931),(8583.65,0.947),(8584.2,0.955),
          (8584.7,0.949),(8585.2,0.941),(8585.7,0.935),(8586.3,0.947),(8586.8,0.964),(8587.4,0.974),(8588.0,0.976),
          (8588.6,0.974),(8589.3,0.971),(8590.0,0.97),(8590.5,0.966),(8591.1,0.957),(8591.7,0.947),(8592.25,0.935),
          (8592.7,0.931),(8593.2,0.931),(8593.8,0.933),(8594.3,0.937),(8594.8,0.931),(8595.35,0.915),(8595.9,0.895),
          (8596.4,0.879),(8596.8,0.866),(8597.4,0.85),(8597.9,0.836),(8598.4,0.835),(8598.7,0.835),(8599.05,0.858),
          (8599.4,0.887),(8599.9,0.915),(8600.3,0.931),(8600.7,0.943),(8601.3,0.951),(8601.95,0.955),(8602.6,0.96),
          (8603.3,0.964),(8604.1,0.968),(8604.8,0.974),(8605.5,0.974),(8606.1,0.968),(8606.9,0.966),(8607.6,0.97),
          (8608.24,0.978),(8608.7,0.982),(8609.2,0.978),(8609.7,0.972),(8610.1,0.96),(8610.7,0.939),(8611.35,0.907),
          (8611.9,0.905),(8612.4,0.931),(8612.96,0.96),(8613.6,0.974),(8614.3,0.98),(8614.8,0.982),(8615.4,0.978),
          (8615.9,0.968),(8616.3,0.96),(8616.7,0.966),(8617.3,0.976),(8617.9,0.982),(8618.5,0.986),(8619.2,0.99),
          (8619.75,0.992),(8620.2,0.984),(8620.7,0.968),(8621.1,0.951),(8621.5,0.943),(8622.0,0.951),(8622.6,0.968),
          (8623.1,0.982),(8623.7,0.99),(8624.3,0.994),(8624.9,0.996),(8625.4,0.994),(8626.0,0.992),(8626.5,0.99),
          (8627.1,0.994),(8627.6,0.996),(8628.1,0.988),(8628.6,0.978),(8629.1,0.974),(8629.7,0.982),(8630.2,0.99),
          (8630.8,0.99),(8631.3,0.984),(8631.8,0.976),(8632.4,0.97),(8632.9,0.968),(8633.4,0.972),(8634.0,0.98),
          (8634.6,0.988),(8635.1,0.994),(8635.8,0.992),(8636.5,0.986),(8637.2,0.982)]
D_6270 = [(8581.36,0.939),(8581.7,0.927),(8582.05,0.919),(8582.6,0.913),(8583.2,0.917),(8583.65,0.921),(8584.2,0.917),
          (8584.7,0.903),(8585.3,0.883),(8585.7,0.879),(8586.2,0.891),(8586.8,0.911),(8587.3,0.923),(8588.0,0.929),
          (8588.75,0.933),(8589.5,0.936),(8590.3,0.933),(8590.8,0.927),(8591.4,0.921),(8592.0,0.915),(8592.5,0.907),
          (8593.0,0.899),(8593.6,0.891),(8594.2,0.887),(8594.8,0.881),(8595.4,0.866),(8595.9,0.838),(8596.4,0.814),
          (8596.9,0.785),(8597.3,0.761),(8597.8,0.737),(8598.1,0.726),(8598.6,0.726),(8599.0,0.753),(8599.4,0.794),
          (8599.9,0.83),(8600.4,0.866),(8600.8,0.887),(8601.4,0.903),(8601.9,0.913),(8602.5,0.921),(8603.1,0.927),
          (8603.8,0.933),(8604.6,0.939),(8605.3,0.945),(8606.1,0.951),(8606.9,0.96),(8607.6,0.968),(8608.24,0.972),
          (8608.7,0.974),(8609.2,0.978),(8609.7,0.968),(8610.1,0.951),(8610.7,0.931),(8611.3,0.915),(8611.8,0.911),
          (8612.4,0.923),(8613.05,0.939),(8613.7,0.951),(8614.5,0.964),(8615.1,0.972),(8615.8,0.974),(8616.5,0.972),
          (8617.2,0.974),(8617.8,0.978),(8618.4,0.974),(8619.0,0.966),(8619.7,0.953),(8620.3,0.943),(8620.9,0.935),
          (8621.5,0.931),(8622.2,0.937),(8622.9,0.949),(8623.5,0.96),(8624.2,0.966),(8624.85,0.966),(8625.5,0.964),
          (8626.2,0.962),(8626.8,0.96),(8627.5,0.96),(8627.95,0.955),(8628.4,0.939),(8629.0,0.923),(8629.6,0.935),
          (8630.0,0.96),(8630.4,0.984),(8630.9,0.998),(8631.2,1.002),(8631.6,0.992),(8632.1,0.972),(8632.6,0.96),
          (8633.2,0.949),(8633.8,0.951),(8634.4,0.96),(8634.9,0.972),(8635.5,0.982),(8636.2,0.99),(8636.7,0.992),
          (8637.2,0.994)]
D_6590 = [(8581.36,0.988),(8581.8,0.984),(8582.3,0.98),(8582.7,0.975),(8583.3,0.972),(8583.7,0.974),(8584.1,0.97),
          (8584.6,0.955),(8585.2,0.939),(8585.7,0.931),(8586.2,0.943),(8586.8,0.957),(8587.3,0.968),(8587.9,0.964),
          (8588.6,0.955),(8589.2,0.951),(8589.9,0.947),(8590.5,0.943),(8591.1,0.933),(8591.7,0.921),(8592.25,0.907),
          (8592.7,0.891),(8593.2,0.87),(8593.7,0.85),(8594.2,0.838),(8594.8,0.832),(8595.4,0.822),(8595.9,0.802),
          (8596.4,0.777),(8596.9,0.745),(8597.3,0.704),(8597.8,0.668),(8598.1,0.64),(8598.6,0.634),(8599.0,0.664),
          (8599.3,0.704),(8599.7,0.745),(8600.2,0.785),(8600.65,0.818),(8601.2,0.846),(8601.9,0.866),(8602.5,0.885),
          (8603.1,0.899),(8603.8,0.913),(8604.6,0.921),(8605.4,0.929),(8606.1,0.935),(8606.9,0.943),(8607.6,0.951),
          (8608.24,0.955),(8608.8,0.964),(8609.4,0.97),(8610.0,0.972),(8610.5,0.968),(8611.1,0.963),(8611.5,0.96),
          (8611.9,0.963),(8612.4,0.972),(8613.0,0.98),(8613.5,0.983),(8614.3,0.982),(8615.0,0.978),(8615.8,0.975),
          (8616.5,0.976),(8617.3,0.982),(8618.05,0.986),(8618.8,0.986),(8619.6,0.984),(8620.5,0.982),(8621.45,0.981),
          (8622.2,0.986),(8622.95,0.992),(8623.7,0.996),(8624.5,0.999),(8625.2,0.999),(8626.0,0.998),(8626.6,0.994),
          (8627.1,0.988),(8627.6,0.968),(8628.05,0.939),(8628.5,0.923),(8629.0,0.909),(8629.5,0.917),(8629.85,0.947),
          (8630.2,0.98),(8630.7,0.998),(8631.1,1.002),(8631.6,0.998),(8632.0,0.99),(8632.6,0.984),(8633.2,0.981),
          (8633.8,0.985),(8634.5,0.99),(8635.2,0.996),(8636.0,0.997),(8636.7,0.996),(8637.2,0.995)]

# shaded windows and line identifications (wavelength in A)
BANDS_A = [(4843.0, 4844.6), (4851.4, 4853.0)]
BANDS_B = [(5159.34, 5161.08), (5164.78, 5166.5)]
BANDS_C = [(5511.08, 5512.9), (5518.65, 5520.47)]
BANDS_D = [(8600.13, 8602.9), (8616.13, 8618.94)]
LINES_A = [("Ni I / Fe I", 4843.6), (r"H$\beta$", 4861.35)]
LINES_B = [("Mg I", 5167.33)]
LINES_C = [("Fe I / Ti I", 5512.4), ("Fe I", 5521.12)]
LINES_D = [("H I", 8598.4), ("Fe I", 8616.2)]

sns.set_style("ticks", {"axes.edgecolor": "black", "xtick.color": "black", "ytick.color": "black",
                        "text.color": "black", "axes.labelcolor": "black",
                        "xtick.direction": "in", "ytick.direction": "in"})
plt.rcParams["font.family"] = ["cmr10", "DejaVu Serif"]
plt.rcParams["mathtext.fontset"] = "cm"
plt.rcParams["axes.formatter.use_mathtext"] = True
plt.rcParams["axes.unicode_minus"] = False

cmap = plt.get_cmap("gist_heat")
norm = colors.Normalize(*TEFF_RANGE)


def draw_panel(ax, spectra, xlim, ylim, ystep, bands, lines, note_y, tag):
    for lo, hi in bands:
        ax.axvspan(lo, hi, color="#bcd6ea", lw=0, zorder=0)
    ax.axhline(1.0, xmin=0.01, xmax=0.99, color="#a0a0a0", lw=1.6, ls=(0, (3.9, 1.8)), zorder=1)
    for teff, pts in zip(TEFF, spectra):
        df = pd.DataFrame(pts, columns=["wl", "flux"])
        sns.lineplot(data=df, x="wl", y="flux", ax=ax, color=cmap(norm(teff)), lw=1.75,
                     estimator=None, sort=False, zorder=2)
    ax.set_xlim(*xlim)
    ax.set_ylim(*ylim)
    ax.xaxis.set_major_locator(MultipleLocator(10))
    ax.xaxis.set_minor_locator(MultipleLocator(2))
    ax.yaxis.set_major_locator(MultipleLocator(ystep))
    ax.yaxis.set_major_formatter(FormatStrFormatter("%.1f"))
    ax.xaxis.set_major_formatter(FormatStrFormatter("%d"))
    ax.tick_params(which="both", direction="in", top=True, right=True, labelsize=13, width=0.8)
    ax.tick_params(which="major", length=4.0, pad=6)
    ax.tick_params(which="minor", length=2.2)
    ax.tick_params(axis="y", which="minor", left=False, right=False)
    for sp in ax.spines.values():
        sp.set_linewidth(0.9)
    ax.set_xlabel("")
    ax.set_ylabel("normalized flux", fontsize=20, labelpad=5)
    tr = ax.get_xaxis_transform()
    for (label, wl), ytop in zip(lines, note_y):
        ax.plot([wl, wl], [ytop, ytop - 0.063], transform=tr, color="black", lw=0.8)
        ax.text(wl, ytop - 0.075, label, transform=tr, ha="center", va="top", fontsize=12)
    ax.text(0.042, 0.09, tag, transform=ax.transAxes, ha="center", va="center", fontsize=15)


fig = plt.figure(figsize=(6, 11.15), dpi=200)
left, width, height = 0.1083, 0.8817, 0.212
ax_a = fig.add_axes([left, 0.7850, width, height])
ax_b = fig.add_axes([left, 0.5417, width, height])
ax_c = fig.add_axes([left, 0.2973, width, height])
ax_d = fig.add_axes([left, 0.0543, width, height])

draw_panel(ax_a, [A_4620, A_5110, A_5640, A_6270, A_6590], (4823.66, 4872.0), (0.03, 1.07), 0.2,
           BANDS_A, LINES_A, [0.598, 0.144], "(a)")
draw_panel(ax_b, [B_4620, B_5110, B_5640, B_6270, B_6590], (5140.06, 5185.4), (0.182, 1.045), 0.2,
           BANDS_B, LINES_B, [0.170], "(b)")
draw_panel(ax_c, [C_4620, C_5110, C_5640, C_6270, C_6590], (5491.82, 5539.4), (0.45, 1.027), 0.1,
           BANDS_C, LINES_C, [0.26, 0.655], "(c)")
draw_panel(ax_d, [D_4620, D_5110, D_5640, D_6270, D_6590], (8581.3, 8637.2), (0.45, 1.024), 0.1,
           BANDS_D, LINES_D, [0.261, 0.747], "(d)")
ax_d.set_xlabel(r"$\lambda\ [\mathrm{\AA}]$", fontsize=20, labelpad=4)

# temperature colour bar inside panel (d)
cax = ax_d.inset_axes([0.516, 0.232, 0.453, 0.06])
sm = cm.ScalarMappable(norm=norm, cmap=cmap)
cb = fig.colorbar(sm, cax=cax, orientation="horizontal")
cb.set_ticks(CBAR_TICKS)
cax.minorticks_off()
cax.tick_params(which="both", direction="out", bottom=True, top=False, length=4, width=0.9, labelsize=12, pad=3)
cb.outline.set_linewidth(1.2)
cb.set_label(r"$T_{\mathrm{eff,\,IRSB}}$ [K]", fontsize=15, labelpad=2)

fig.savefig("out.png", dpi=200)
